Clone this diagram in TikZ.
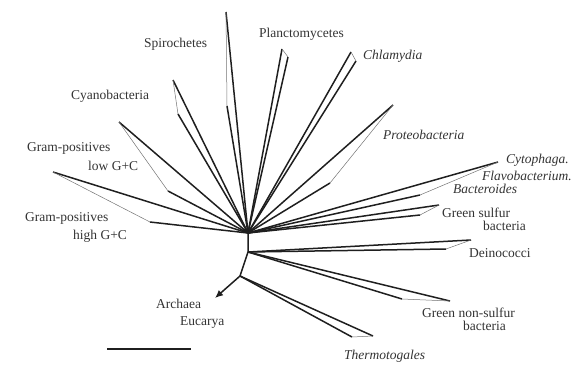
\documentclass[tikz,border=0pt]{standalone}
\usepackage{fontspec}
\setmainfont{Liberation Serif}
\usetikzlibrary{arrows.meta}
\tikzset{
  tree/branch/.style={line width=1.5pt, line join=round, draw=black!88},
  tree/join/.style={line width=0.5pt, draw=black!55},
  tree/arrow/.style={tree/branch, -{Latex[length=8pt,width=7pt]}},
  tree/label/.style={font=\fontsize{13.5}{14}\selectfont, text=black!80, inner sep=0pt, anchor=base west},
  tree/italic/.style={tree/label, font=\fontsize{13.5}{14}\selectfont\itshape}
}

\begin{document}
\begin{tikzpicture}[x=1pt,y=-1pt]
  \useasboundingbox (0,0) rectangle (588,365);

  % root and inner forks
  \coordinate (hub) at (248,233);
  \coordinate (fork) at (248,252);
  \coordinate (lowfork) at (240,276);
  \coordinate (euk) at (215,298);

  % clade tips (long edge / short edge)
  \coordinate (spiroA) at (226,12);   \coordinate (spiroB) at (227,106);
  \coordinate (planA) at (282,49);    \coordinate (planB) at (288,57);
  \coordinate (chlamA) at (351,52);   \coordinate (chlamB) at (356,61);
  \coordinate (cyanoA) at (173,80);   \coordinate (cyanoB) at (178,114);
  \coordinate (lowA) at (119,122);    \coordinate (lowB) at (168,191);
  \coordinate (highA) at (53,172);    \coordinate (highB) at (150,222);
  \coordinate (proteoA) at (393,105); \coordinate (proteoB) at (330,183);
  \coordinate (cytoA) at (498,162);   \coordinate (cytoB) at (420,195);
  \coordinate (gsA) at (439,205);     \coordinate (gsB) at (420,215);
  \coordinate (deinoA) at (471,240);  \coordinate (deinoB) at (446,249);
  \coordinate (gnsA) at (450,301);    \coordinate (gnsB) at (402,299);
  \coordinate (thermoA) at (373,336); \coordinate (thermoB) at (352,337);

  \foreach \r/\a/\b in {hub/spiroA/spiroB, hub/planA/planB, hub/chlamA/chlamB,
      hub/cyanoA/cyanoB, hub/lowA/lowB, hub/highA/highB, hub/proteoA/proteoB,
      hub/cytoA/cytoB, hub/gsA/gsB, fork/deinoA/deinoB, fork/gnsA/gnsB,
      lowfork/thermoA/thermoB} {
    \draw[tree/branch] (\r) -- (\a);
    \draw[tree/branch] (\r) -- (\b);
    \draw[tree/join] (\a) -- (\b);
  }

  \draw[tree/branch] (hub) -- (fork) -- (lowfork);
  \draw[tree/arrow] (lowfork) -- (euk);

  % scale bar
  \coordinate (barL) at (107,349);
  \coordinate (barR) at (191,349);
  \draw[tree/branch] (barL) -- (barR);

  % labels
  \node[tree/label] (spiro) at (144,47) {Spirochetes};
  \node[tree/label] (plan) at (259,37) {Planctomycetes};
  \node[tree/italic] (chlam) at (363,59) {Chlamydia};
  \node[tree/label] (cyano) at (71,99) {Cyanobacteria};
  \node[tree/label] (low1) at (27,151) {Gram-positives};
  \node[tree/label] (low2) at (88,170) {low G+C};
  \node[tree/label] (high1) at (25,221) {Gram-positives};
  \node[tree/label] (high2) at (73,239) {high G+C};
  \node[tree/italic] (proteo) at (383,139) {Proteobacteria};
  \node[tree/italic] (cyto1) at (506,163) {Cytophaga.};
  \node[tree/italic] (cyto2) at (482,180) {Flavobacterium.};
  \node[tree/italic] (cyto3) at (453,193) {Bacteroides};
  \node[tree/label] (gs1) at (442,217) {Green sulfur};
  \node[tree/label] (gs2) at (483,230) {bacteria};
  \node[tree/label] (deino) at (469,257) {Deinococci};
  \node[tree/label] (gns1) at (422,317) {Green non-sulfur};
  \node[tree/label] (gns2) at (463,330) {bacteria};
  \node[tree/italic] (thermo) at (344,359) {Thermotogales};
  \node[tree/label] (arch) at (156,308) {Archaea};
  \node[tree/label] (euka) at (180,325) {Eucarya};
\end{tikzpicture}
\end{document}
